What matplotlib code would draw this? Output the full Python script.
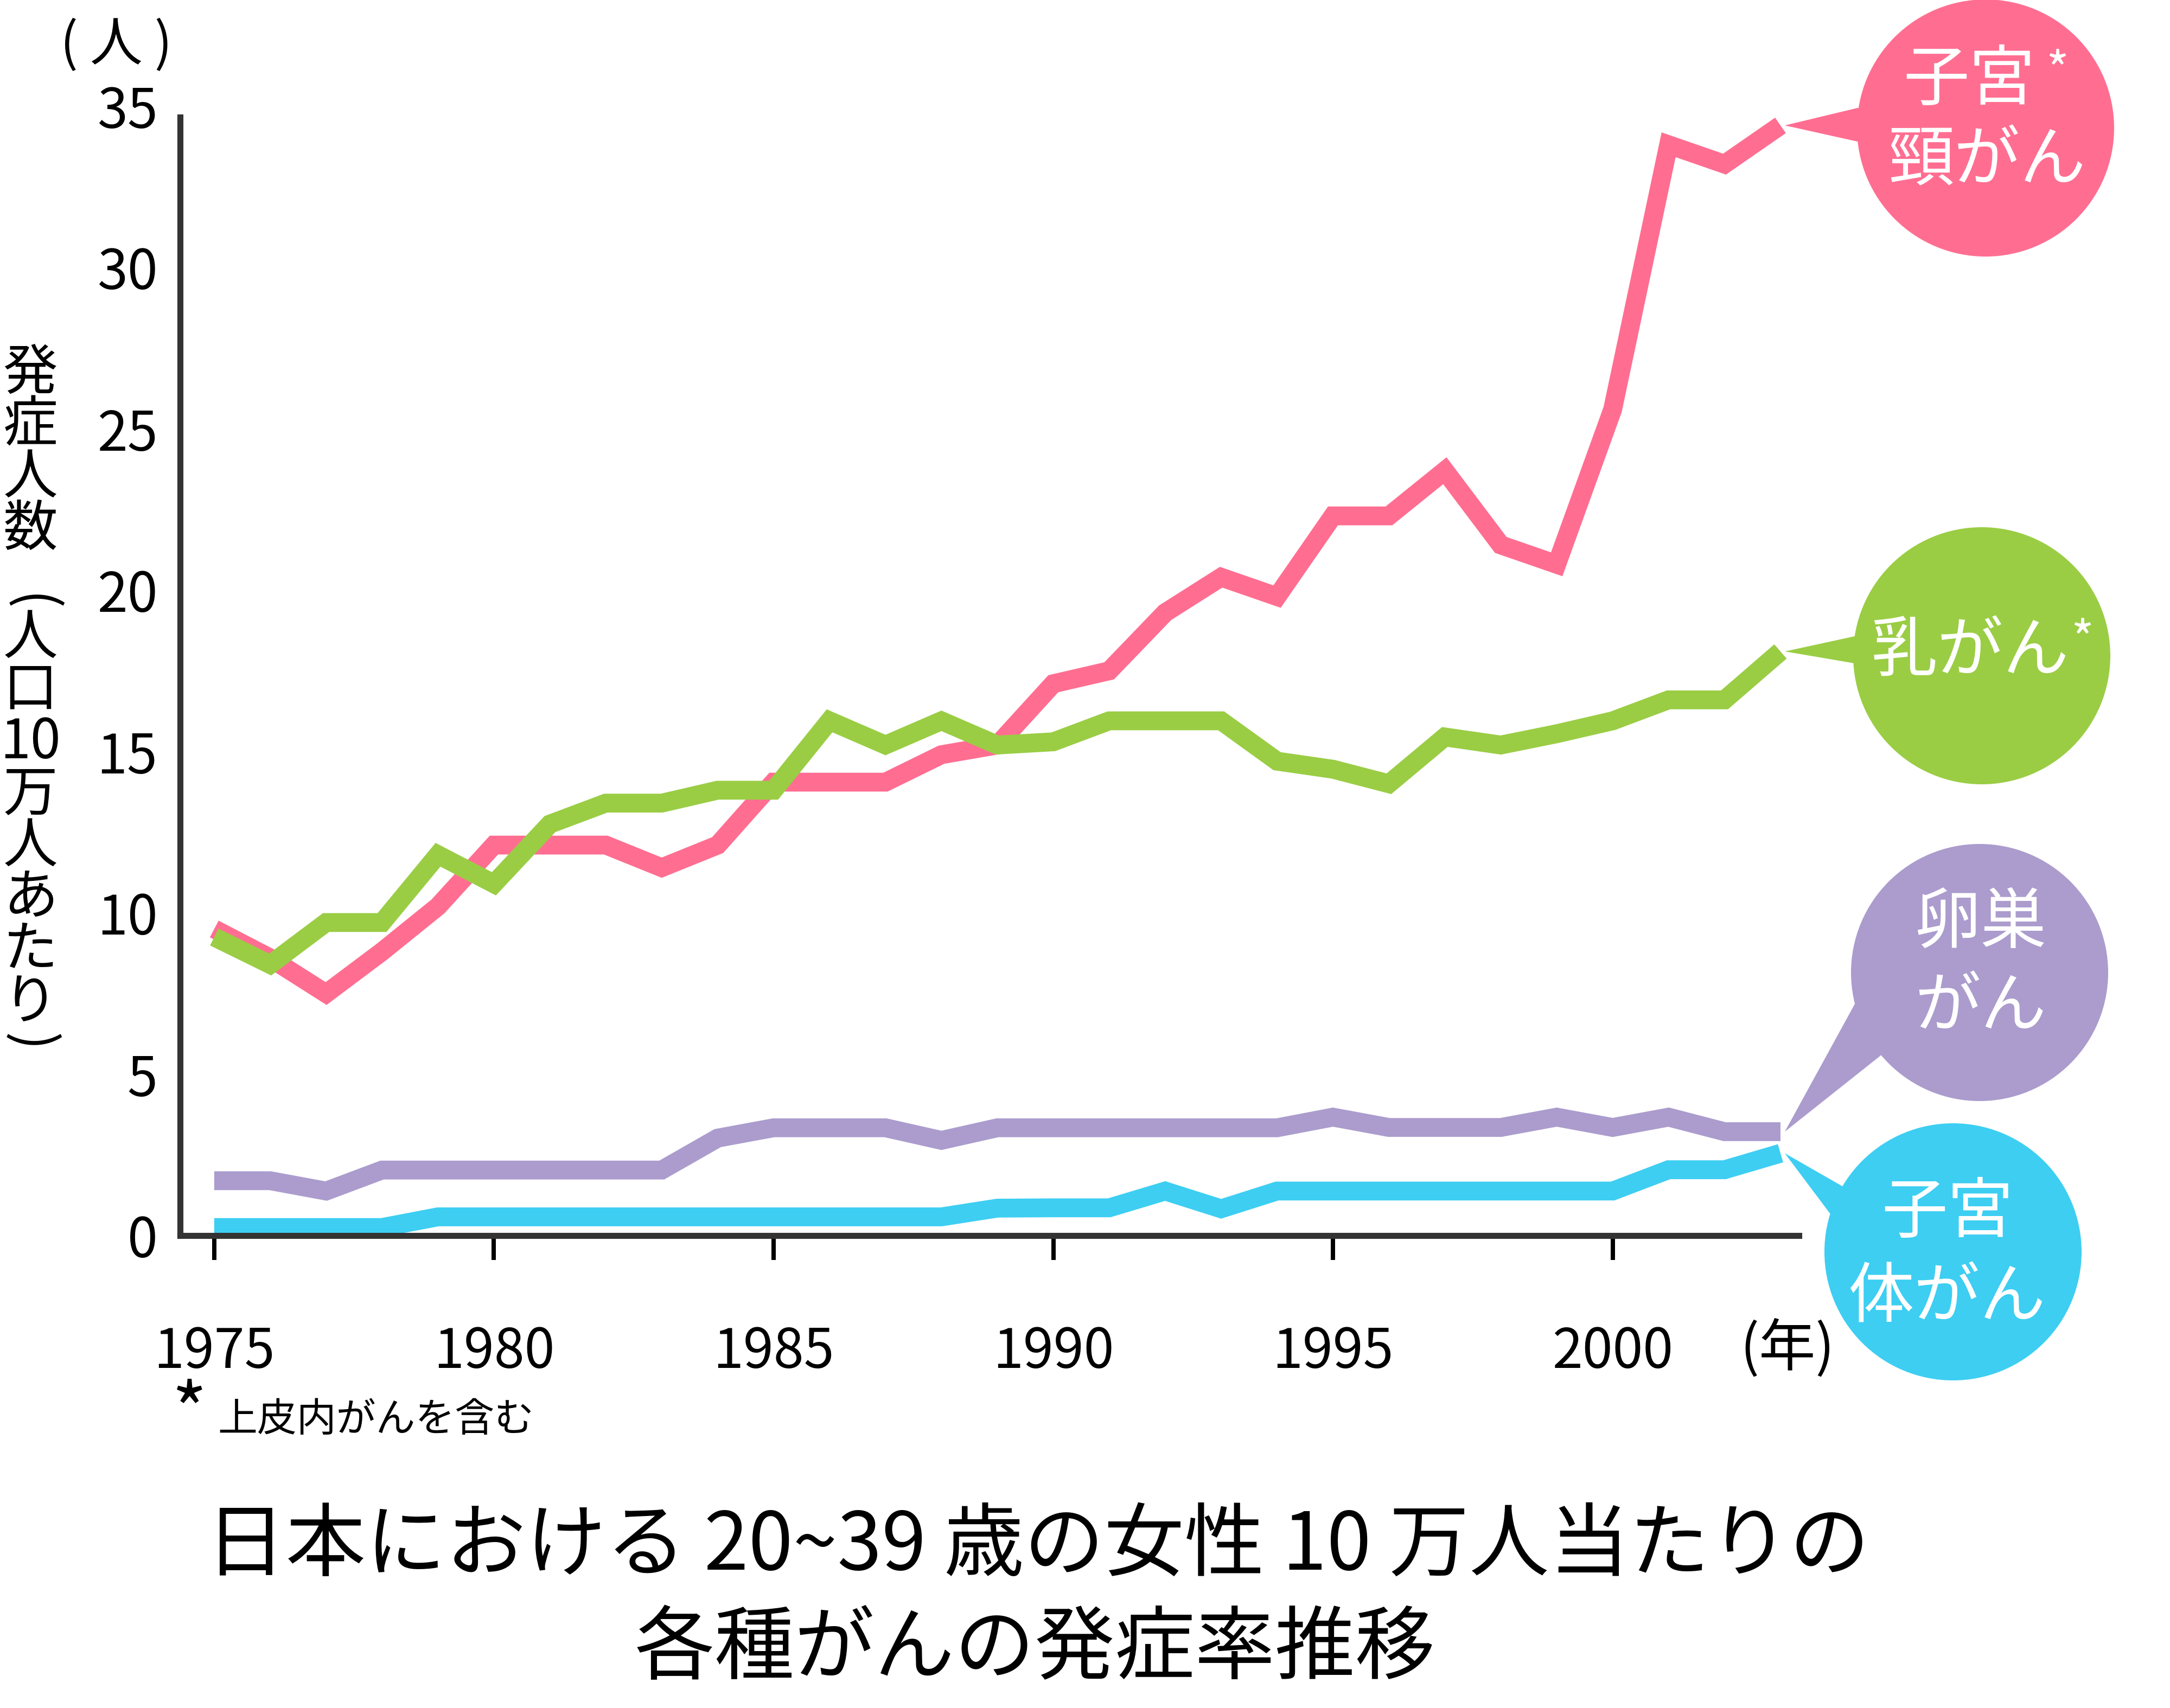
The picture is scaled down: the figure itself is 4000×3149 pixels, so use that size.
# 日本における 20~39 歳の女性 10 万人当たりの各種がんの発症率推移
import numpy as np
import matplotlib.pyplot as plt
from matplotlib.patches import Ellipse, Polygon

plt.rcParams['font.family'] = ['Noto Sans CJK JP', 'DejaVu Sans']

# data
years = list(range(1975, 2004))
cervical = [9.5, 8.6, 7.5, 8.8, 10.2, 12.1, 12.1, 12.1, 11.4, 12.1,
            14.05, 14.05, 14.05, 14.9, 15.2, 17.1, 17.5, 19.3, 20.4, 19.8,
            22.3, 22.3, 23.7, 21.4, 20.8, 25.6, 33.8, 33.2, 34.4]
breast = [9.25, 8.4, 9.7, 9.7, 11.8, 10.9, 12.75, 13.4, 13.4, 13.8,
          13.8, 15.95, 15.2, 15.95, 15.2, 15.3, 15.95, 15.95, 15.95, 14.7,
          14.45, 14.0, 15.45, 15.2, 15.55, 15.95, 16.6, 16.6, 18.1]
ovarian = [1.7, 1.7, 1.38, 2.03, 2.03, 2.03, 2.03, 2.03, 2.03, 3.02,
           3.34, 3.34, 3.34, 2.95, 3.34, 3.34, 3.34, 3.34, 3.34, 3.34,
           3.67, 3.35, 3.35, 3.35, 3.67, 3.35, 3.67, 3.22, 3.22]
uterine = [0.25, 0.25, 0.25, 0.25, 0.58, 0.58, 0.58, 0.58, 0.58, 0.58,
           0.58, 0.58, 0.58, 0.58, 0.85, 0.86, 0.86, 1.38, 0.83, 1.38,
           1.38, 1.38, 1.38, 1.38, 1.38, 1.38, 2.04, 2.04, 2.55]

xticks = [1975, 1980, 1985, 1990, 1995, 2000]
yticks = [0, 5, 10, 15, 20, 25, 30, 35]

PINK = '#FF6E91'
GREEN = '#9ACD44'
PURPLE = '#AB9CCD'
BLUE = '#3DCEF2'
AXIS = '#333333'

W, H = 4000, 3149
DPI = 250
fig = plt.figure(figsize=(W / DPI, H / DPI), dpi=DPI)

# main axes: x-axis at y=2278px, value 35 at 195px, left spine at 332px
ax = fig.add_axes([332 / W, 1 - 2278 / H, (3316 - 332) / W, (2278 - 195.5) / H])

line_kw = dict(lw=10, solid_joinstyle='miter', solid_capstyle='butt')
ax.plot(years, uterine, color=BLUE, **line_kw)
ax.plot(years, ovarian, color=PURPLE, **line_kw)
ax.plot(years, cervical, color=PINK, **line_kw)
ax.plot(years, breast, color=GREEN, **line_kw)

ax.set_xlim(1974.39, 2003.33)
ax.set_ylim(0, 35)
ax.set_xticks(xticks)
ax.set_yticks(yticks)
ax.set_xticklabels([str(v) for v in xticks])
ax.set_yticklabels([str(v) for v in yticks])

for s in ['top', 'right']:
    ax.spines[s].set_visible(False)
for s in ['left', 'bottom']:
    ax.spines[s].set_color(AXIS)
    ax.spines[s].set_linewidth(3.2)
ax.spines['left'].set_bounds(0, 34.65)

ax.tick_params(axis='y', length=0, pad=12, labelsize=29)
ax.tick_params(axis='x', length=13, width=2.3, color='black', direction='out',
               pad=34, labelsize=29)

# overlay in pixel coordinates for the callouts and extra texts
ov = fig.add_axes([0, 0, 1, 1])
ov.set_xlim(0, W)
ov.set_ylim(H, 0)
ov.axis('off')
ov.set_facecolor('none')


def to_px(x, y):
    fx, fy = ax.transData.transform((x, y))
    return fx, H - fy


bubbles = [
    (cervical, PINK, (3660, 236), (3424, 199), (3424, 261),
     [('子宮', 3630, 149), ('頸がん', 3662, 298)], (3792, 128)),
    (breast, GREEN, (3653, 1209), (3419, 1173), (3419, 1223),
     [('乳がん', 3632, 1202)], (3838, 1177)),
    (ovarian, PURPLE, (3649, 1793), (3419, 1851), (3468, 1945),
     [('卵巣', 3651, 1703), ('がん', 3651, 1858)], None),
    (uterine, BLUE, (3600, 2308), (3396, 2187), (3373, 2237),
     [('子宮', 3590, 2237), ('体がん', 3589, 2394)], None),
]

for series, col, c, p1, p2, lines, star in bubbles:
    tx, ty = to_px(years[-1], series[-1])
    tip = (tx + 8, ty)
    ov.add_patch(Polygon([tip, p1, c, p2], closed=True, color=col, lw=0))
    ov.add_patch(Ellipse(c, 474, 474, color=col, lw=0))
    for txt, x, y in lines:
        ov.text(x, y, txt, ha='center', va='center', color='white', fontsize=35)
    if star:
        ov.text(star[0], star[1] + 8, '*', ha='center', va='center', color='white',
                fontsize=26)

# unit labels
ov.text(214, 84, '( 人 )', ha='center', va='center', fontsize=28)
ov.text(3295, 2487, '(年)', ha='center', va='center', fontsize=30)

# vertical y-axis label
ylab = [('発', 689), ('症', 785), ('人', 881), ('数', 977), ('(', 1112),
        ('人', 1177), ('口', 1273), ('10', 1369), ('万', 1465), ('人', 1561),
        ('あ', 1657), ('た', 1753), ('り', 1849), (')', 1922)]
for ch, y in ylab:
    rot = -90 if ch in '()' else 0
    ov.text(56, y, ch, ha='center', va='center', fontsize=29, rotation=rot)

# footnote
ov.text(349, 2612, '*', ha='center', va='center', fontsize=40)
ov.text(401, 2618, '上皮内がんを含む', ha='left', va='center', fontsize=21)

# title
ov.text(1913, 2852, '日本における 20~39 歳の女性 10 万人当たりの',
        ha='center', va='center', fontsize=42.5)
ov.text(1908, 3043, '各種がんの発症率推移', ha='center', va='center', fontsize=42.5)

fig.savefig('out.png', dpi=DPI, facecolor='white')
